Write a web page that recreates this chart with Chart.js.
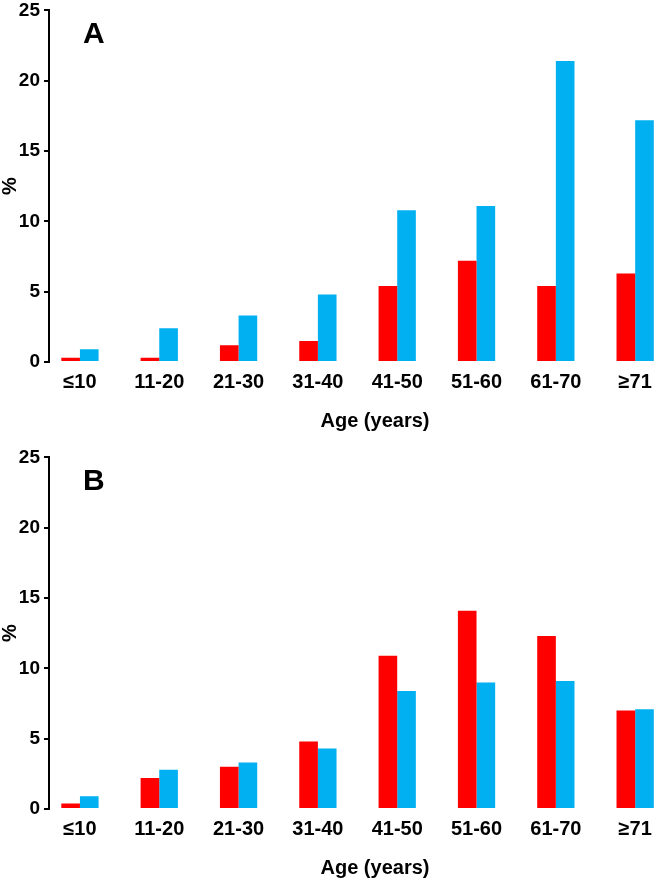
<!DOCTYPE html>
<html>
<head>
<meta charset="utf-8">
<script src="https://cdn.jsdelivr.net/npm/chart.js@4.4.0/dist/chart.umd.min.js"></script>
<style>
  html, body { margin: 0; padding: 0; background: #fff; overflow: hidden; }
  #wrap { position: relative; width: 669px; height: 880px; overflow: hidden; }
  canvas { position: absolute; left: 0; }
  #chartA { top: 0; }
  #chartB { top: 447px; }
</style>
</head>
<body>
<div id="wrap">
  <canvas id="chartA" width="701" height="440"></canvas>
  <canvas id="chartB" width="701" height="440"></canvas>
</div>
<script>
const ageGroups = ["≤10", "11-20", "21-30", "31-40", "41-50", "51-60", "61-70", "≥71"];
const panelARed = [0.3, 0.3, 1.2, 1.5, 5.4, 7.2, 5.4, 6.3];
const panelABlue = [0.9, 2.4, 3.3, 4.8, 10.8, 11.1, 21.4, 17.2];
const panelBRed = [0.4, 2.2, 3.0, 4.8, 10.9, 14.1, 12.3, 7.0];
const panelBBlue = [0.9, 2.8, 3.3, 4.3, 8.4, 9.0, 9.1, 7.1];
const yMin = 0, yMax = 25, yStep = 5;

const FONT = '"Liberation Sans", Arial, sans-serif';
const RED = "#FF0000";
const BLUE = "#00B0F0";

// big panel letter in the top left of the plot
const panelLetter = {
  id: "panelLetter",
  afterDraw(chart, args, opts) {
    const ctx = chart.ctx;
    ctx.save();
    ctx.fillStyle = "#000";
    ctx.font = "bold 30px " + FONT;
    ctx.textBaseline = "alphabetic";
    ctx.fillText(opts.text, chart.chartArea.left + 34, chart.chartArea.top + 33);
    ctx.restore();
  }
};

// age groups sit at index positions on a linear x axis
function toPoints(values) {
  return values.map((v, i) => ({ x: i, y: v }));
}

function makeChart(id, letter, red, blue) {
  const ctx = document.getElementById(id).getContext("2d");
  return new Chart(ctx, {
    type: "bar",
    data: {
      datasets: [
        { data: toPoints(red), backgroundColor: RED, categoryPercentage: 0.47, barPercentage: 1 },
        { data: toPoints(blue), backgroundColor: BLUE, categoryPercentage: 0.47, barPercentage: 1 }
      ]
    },
    options: {
      responsive: false,
      animation: false,
      devicePixelRatio: 1,
      layout: { padding: { top: 0, right: 0, left: 0, bottom: 0 } },
      plugins: {
        legend: { display: false },
        tooltip: { enabled: false },
        panelLetter: { text: letter }
      },
      scales: {
        x: {
          type: "linear",
          offset: false,
          min: -0.39,
          max: 7.83,
          afterBuildTicks(scale) { scale.ticks = ageGroups.map((g, i) => ({ value: i })); },
          afterFit(scale) { scale.height = 78; },
          grid: { display: false, drawTicks: false },
          border: { display: false },
          ticks: {
            autoSkip: false,
            maxRotation: 0,
            color: "#000",
            padding: 8,
            font: { family: FONT, size: 20, weight: "bold" },
            callback: (v) => ageGroups[v] || ""
          },
          title: {
            display: true,
            text: "Age (years)",
            color: "#000",
            padding: { top: 0, bottom: 7 },
            font: { family: FONT, size: 20, weight: "bold" }
          }
        },
        y: {
          min: yMin,
          max: yMax,
          afterFit(scale) { scale.width = 49; },
          ticks: {
            stepSize: yStep,
            color: "#000",
            padding: 4,
            font: { family: FONT, size: 19, weight: "bold", lineHeight: 0.68 }
          },
          grid: { drawOnChartArea: false, drawTicks: true, tickLength: 5, color: "#000", lineWidth: 2 },
          border: { display: true, color: "#000", width: 2 },
          title: {
            display: true,
            text: "%",
            color: "#000",
            padding: 0,
            font: { family: FONT, size: 20, weight: "bold", lineHeight: 1 }
          }
        }
      }
    },
    plugins: [panelLetter]
  });
}

makeChart("chartA", "A", panelARed, panelABlue);
makeChart("chartB", "B", panelBRed, panelBBlue);
</script>
</body>
</html>
